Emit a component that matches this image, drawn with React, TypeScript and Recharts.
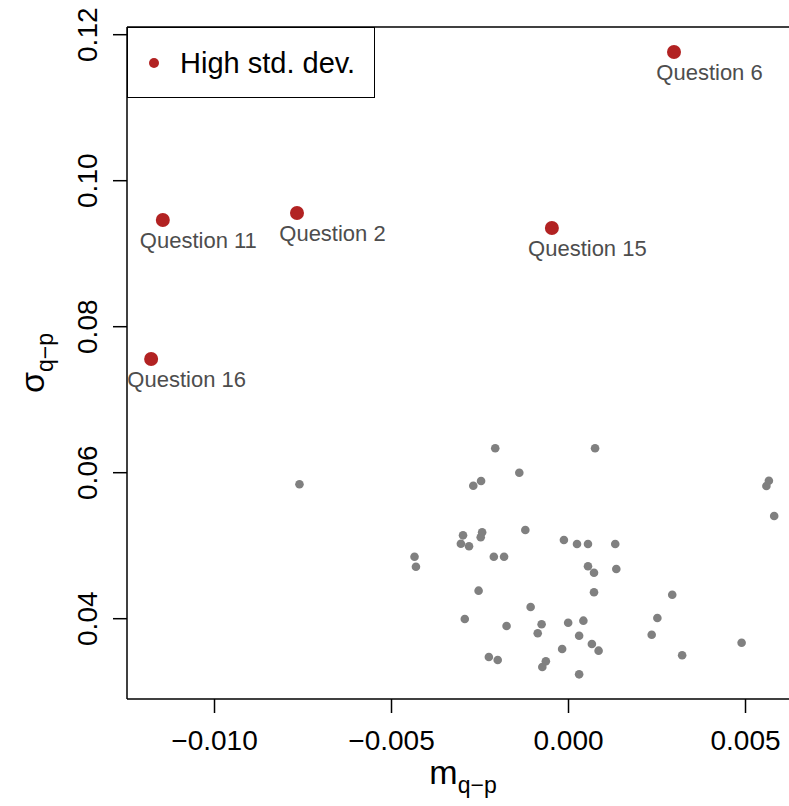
import React from 'react';
import { ScatterChart, Scatter, XAxis, YAxis, ReferenceLine, Legend, Label } from 'recharts';

// mean difference (q - p) and its std. dev. for every question
const otherM = [
  -0.0076, -0.00435, -0.00431, -0.00298, -0.00304, -0.00281, -0.00269, -0.00247, -0.00207, 0.00075,
  -0.00139, -0.00122, -0.00244, -0.00248, -0.00211, -0.00182, -0.00013, 0.00024, 0.00055, 0.00132,
  0.00055, 0.00072, 0.00135, -0.00254, 0.00072, -0.00107, -0.00293, -0.00175, -0.00076, -0.00087,
  -0.00001, 0.00042, 0.0003, -0.00018, 0.00066, 0.00085, -0.00225, -0.002, -0.00064, -0.00074,
  0.0003, 0.00566, 0.00559, 0.00581, 0.00293, 0.00251, 0.00235, 0.00489, 0.00321,
];
const otherSigma = [
  0.05841, 0.04849, 0.04712, 0.05142, 0.05027, 0.04992, 0.05822, 0.05886, 0.06334, 0.06334,
  0.06, 0.05215, 0.05184, 0.05115, 0.04849, 0.04849, 0.05078, 0.05023, 0.05023, 0.05023,
  0.04718, 0.0463, 0.04681, 0.04384, 0.04362, 0.0416, 0.03996, 0.039, 0.03923, 0.038,
  0.03945, 0.03973, 0.03767, 0.03585, 0.03653, 0.03562, 0.03475, 0.03434, 0.03416, 0.03338,
  0.03238, 0.0589, 0.05818, 0.05407, 0.04329, 0.0401, 0.03781, 0.03671, 0.03499,
];

const highQuestions = ['Question 6', 'Question 11', 'Question 2', 'Question 15', 'Question 16'];
const highM = [0.00298, -0.01146, -0.00767, -0.00047, -0.01179];
const highSigma = [0.11763, 0.09462, 0.09557, 0.09352, 0.07557];

const xTicks = [-0.01, -0.005, 0, 0.005];
const yTicks = [0.04, 0.06, 0.08, 0.1, 0.12];

const otherData = otherM.map((m, i) => ({ m, s: otherSigma[i] }));
const highData = highM.map((m, i) => ({ m, s: highSigma[i], label: highQuestions[i] }));

const font = '"Liberation Sans", Arial, Helvetica, sans-serif';
const fmtX = (v: number) => v.toFixed(3).replace('-', '\u2212');

const HighPoint = (props: any) => {
  const { cx, cy, payload } = props;
  return (
    <g>
      <circle cx={cx} cy={cy} r={7} fill="#B22222" />
      <text x={cx + 35.5} y={cy + 28} textAnchor="middle" fontSize={22} fill="#4d4d4d" fontFamily={font}>
        {payload.label}
      </text>
    </g>
  );
};

const OtherPoint = (props: any) => <circle cx={props.cx} cy={props.cy} r={4.3} fill="#808080" />;

const YTick = (props: any) => {
  const { y, payload } = props;
  return (
    <text x={97} y={y} transform={`rotate(-90, 97, ${y})`} textAnchor="middle" fontSize={28} fill="#000" fontFamily={font}>
      {payload.value.toFixed(2)}
    </text>
  );
};

const XTick = (props: any) => {
  const { x, payload } = props;
  return (
    <text x={x} y={750} textAnchor="middle" fontSize={28} fill="#000" fontFamily={font}>
      {fmtX(payload.value)}
    </text>
  );
};

const LegendBox = () => (
  <div style={{ position: 'relative', width: 246, height: 69, border: '1.5px solid #000', background: '#fff', fontFamily: font }}>
    <span style={{ position: 'absolute', left: 21, top: 30, width: 10, height: 10, borderRadius: 5, background: '#B22222' }} />
    <span style={{ position: 'absolute', left: 52, top: 17, fontSize: 29, lineHeight: '36px', color: '#000' }}>High std. dev.</span>
  </div>
);

export default function App() {
  return (
    <div style={{ position: 'absolute', left: 0, top: 0, width: 789, height: 806, overflow: 'hidden', background: '#fff' }}>
      <ScatterChart width={800} height={806} margin={{ top: 27, right: 1, bottom: 0, left: 0 }}>
        <XAxis
          type="number"
          dataKey="m"
          domain={[-0.012472, 0.006511]}
          allowDataOverflow
          ticks={xTicks}
          height={107}
          tickSize={14}
          tick={<XTick />}
          axisLine={{ stroke: '#000', strokeWidth: 1.5 }}
          tickLine={{ stroke: '#000', strokeWidth: 1.5 }}
        >
          <Label
            content={() => (
              <text x={463} y={784} textAnchor="middle" fontSize={34} fill="#000" fontFamily={font}>
                m<tspan dy={9} fontSize={23}>q{'\u2212'}p</tspan>
              </text>
            )}
          />
        </XAxis>
        <YAxis
          type="number"
          dataKey="s"
          domain={[0.029, 0.121055]}
          allowDataOverflow
          ticks={yTicks}
          width={127}
          tickSize={14}
          tick={<YTick />}
          axisLine={{ stroke: '#000', strokeWidth: 1.5 }}
          tickLine={{ stroke: '#000', strokeWidth: 1.5 }}
        >
          <Label
            content={() => (
              <text x={44} y={363} transform="rotate(-90, 44, 363)" textAnchor="middle" fontSize={34} fill="#000" fontFamily={font}>
                {'\u03c3'}<tspan dy={9} fontSize={23}>q{'\u2212'}p</tspan>
              </text>
            )}
          />
        </YAxis>
        <ReferenceLine y={0.121055} stroke="#000" strokeWidth={1.5} ifOverflow="visible" />
        <Legend
          layout="vertical"
          verticalAlign="middle"
          align="center"
          content={<LegendBox />}
          wrapperStyle={{ position: 'absolute', left: 127, top: 27, width: 248, height: 70 }}
        />
        <Scatter data={otherData} fill="#808080" shape={<OtherPoint />} isAnimationActive={false} />
        <Scatter data={highData} fill="#B22222" shape={<HighPoint />} isAnimationActive={false} />
      </ScatterChart>
    </div>
  );
}
